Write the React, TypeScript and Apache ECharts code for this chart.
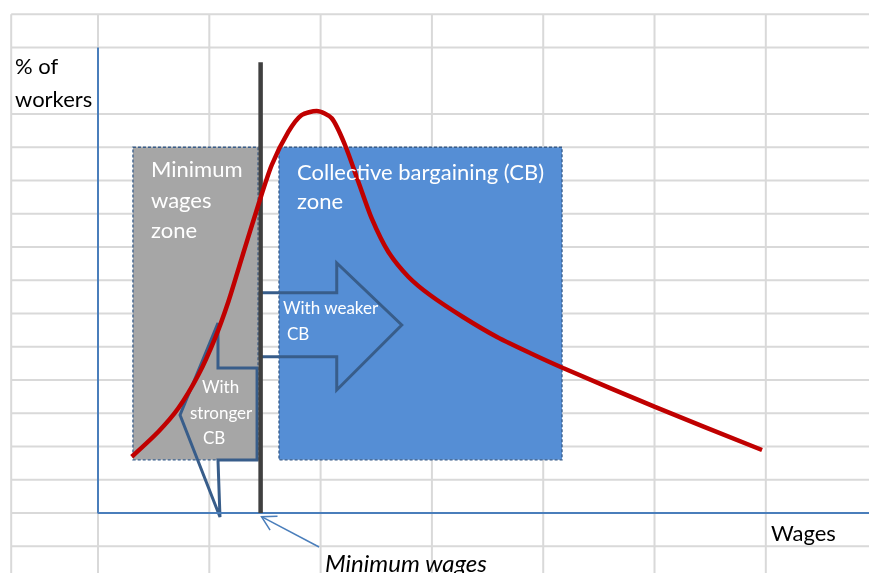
import React, { useEffect, useRef } from "react";
import * as echarts from "echarts";

// Units: 1 x-unit = one spreadsheet column, 1 y-unit = one spreadsheet row.
const X_MIN = -0.8805;
const X_MAX = 6.927;
const Y_MIN = -1.8045;
const Y_MAX = 15.429;

// spreadsheet grid behind the diagram
const sheetColumns = [-0.78, 0, 1, 2, 3, 4, 5, 6, 7];
const sheetRows = [-1, 0, 1, 2, 3, 4, 5, 6, 7, 8, 9, 10, 11, 12, 14, 15];
const sheetTop = 15;
const sheetLeft = -0.78;

// axes of the diagram
const axisYTop = 14;

// wage distribution (share of workers by wage level)
const wages = [0.303, 0.542, 0.721, 0.901, 1.051, 1.171, 1.291, 1.44, 1.561, 1.711, 1.83, 1.965, 2.1, 2.219, 2.339, 2.459, 2.608, 2.788, 2.983, 3.279, 3.585, 3.881, 4.178, 5.004, 5.966];
const workers = [1.693, 2.445, 3.149, 4.15, 5.254, 6.355, 7.66, 9.263, 10.466, 11.468, 11.97, 12.09, 11.871, 11.068, 9.964, 8.863, 7.859, 7.107, 6.556, 5.895, 5.293, 4.812, 4.361, 3.19, 1.895];

// minimum wage
const minimumWage = 1.461;
const minimumWageTop = 13.56;

// zones [x0, y0, x1, y1]
const minWageZone = [0.314, 1.6, 1.438, 11];
const cbZone = [1.626, 1.6, 4.169, 11];

// arrows (outline vertices)
const weakerCBArrow = [[1.456, 6.626], [2.145, 6.626], [2.145, 7.52], [2.729, 5.654], [2.145, 3.7], [2.145, 4.7], [1.456, 4.7]];
const strongerCBArrow = [[1.078, 5.714], [1.078, 4.361], [1.429, 4.361], [1.429, 1.594], [1.078, 1.594], [1.096, -0.12], [0.737, 2.947]];

// annotation pointer (tail, tip)
const pointerTail = [1.986, -1.023];
const pointerTip = [1.469, -0.111];

const BIG = "22px Lato";
const SMALL = "17px Lato";

function txt(text: string, x: number, y: number, font: string, fill: string) {
  return {
    type: "text",
    x,
    y,
    z: 100,
    style: { text, fill, font, textVerticalAlign: "middle", verticalAlign: "middle" },
  };
}

export default function App() {
  const ref = useRef<HTMLDivElement>(null);
  useEffect(() => {
    if (!ref.current) return;
    const chart = echarts.init(ref.current, undefined, { renderer: "svg" });
    const option: any = {
      animation: false,
      grid: { left: 0, right: 0, top: 0, bottom: 0 },
      xAxis: { type: "value", min: X_MIN, max: X_MAX, show: false },
      yAxis: { type: "value", min: Y_MIN, max: Y_MAX, show: false },
      series: [
        {
          type: "custom",
          z: 1,
          data: sheetRows.map((r) => [sheetLeft, r]),
          renderItem: (_p: any, api: any) => {
            const r = api.value(1);
            const a = api.coord([sheetLeft, r]);
            const b = api.coord([X_MAX, r]);
            return { type: "line", shape: { x1: a[0], y1: a[1], x2: b[0], y2: b[1] }, style: { stroke: "#d9d9d9", lineWidth: 2 } };
          },
        },
        {
          type: "custom",
          z: 1,
          data: sheetColumns.map((c) => [c, sheetTop]),
          renderItem: (_p: any, api: any) => {
            const c = api.value(0);
            const a = api.coord([c, sheetTop]);
            const b = api.coord([c, Y_MIN]);
            return { type: "line", shape: { x1: a[0], y1: a[1], x2: b[0], y2: b[1] }, style: { stroke: "#d9d9d9", lineWidth: 2 } };
          },
        },
        {
          type: "custom",
          z: 2,
          data: [minWageZone, cbZone],
          renderItem: (p: any, api: any) => {
            const a = api.coord([api.value(0), api.value(3)]);
            const b = api.coord([api.value(2), api.value(1)]);
            return {
              type: "rect",
              shape: { x: a[0], y: a[1], width: b[0] - a[0], height: b[1] - a[1] },
              style: { fill: p.dataIndex === 0 ? "#a6a6a6" : "#558ed5", stroke: "#385d8a", lineWidth: 1.3, lineDash: [3, 2] },
            };
          },
        },
        {
          type: "custom",
          z: 3,
          data: [[0, 0], [1, 0]],
          renderItem: (p: any, api: any) => {
            const pts = (p.dataIndex === 0 ? weakerCBArrow : strongerCBArrow).map((q) => api.coord(q));
            return { type: "polygon", shape: { points: pts }, style: { fill: "none", stroke: "#385d8a", lineWidth: 3, lineJoin: "miter" } };
          },
        },
        {
          type: "line",
          z: 4,
          data: [[0, axisYTop], [0, 0], [X_MAX, 0]],
          symbol: "none",
          lineStyle: { color: "#4a7ebb", width: 2 },
        },
        {
          type: "line",
          z: 5,
          data: [[minimumWage, 0], [minimumWage, minimumWageTop]],
          symbol: "none",
          lineStyle: { color: "#404040", width: 4.5 },
        },
        {
          type: "line",
          z: 6,
          data: wages.map((w, i) => [w, workers[i]]),
          smooth: 0.25,
          symbol: "none",
          lineStyle: { color: "#c00000", width: 4.5 },
        },
        {
          type: "custom",
          z: 6,
          data: [pointerTip],
          renderItem: (_p: any, api: any) => {
            const tip = api.coord(pointerTip);
            const tail = api.coord(pointerTail);
            const ang = Math.atan2(tail[1] - tip[1], tail[0] - tip[0]);
            const L = 16;
            const a1 = ang - 0.52;
            const a2 = ang + 0.52;
            return {
              type: "group",
              children: [
                { type: "line", shape: { x1: tail[0], y1: tail[1], x2: tip[0], y2: tip[1] }, style: { stroke: "#4a7ebb", lineWidth: 1.5 } },
                {
                  type: "polyline",
                  shape: { points: [[tip[0] + L * Math.cos(a1), tip[1] + L * Math.sin(a1)], tip, [tip[0] + L * Math.cos(a2), tip[1] + L * Math.sin(a2)]] },
                  style: { stroke: "#4a7ebb", lineWidth: 1.5, fill: "none" },
                },
              ],
            };
          },
        },
      ],
      graphic: [
        txt("% of", 15, 65.5, BIG, "#000"),
        txt("workers", 15, 98.5, BIG, "#000"),
        txt("Minimum", 151, 168.5, BIG, "#fff"),
        txt("wages", 151, 199.5, BIG, "#fff"),
        txt("zone", 151, 229, BIG, "#fff"),
        txt("Collective bargaining (CB)", 297, 171, BIG, "#fff"),
        txt("zone", 297, 200, BIG, "#fff"),
        txt("With weaker", 283, 307.5, SMALL, "#fff"),
        txt("CB", 287, 333.5, SMALL, "#fff"),
        txt("With", 202, 386, SMALL, "#fff"),
        txt("stronger", 190, 412, SMALL, "#fff"),
        txt("CB", 203, 437.5, SMALL, "#fff"),
        txt("Wages", 771, 532, BIG, "#000"),
        txt("Minimum wages", 325, 562, "italic 24px Lato", "#000"),
      ],
    };
    chart.setOption(option);
    return () => chart.dispose();
  }, []);
  return <div ref={ref} style={{ position: "fixed", left: 0, top: 0, width: 869, height: 573 }} />;
}
